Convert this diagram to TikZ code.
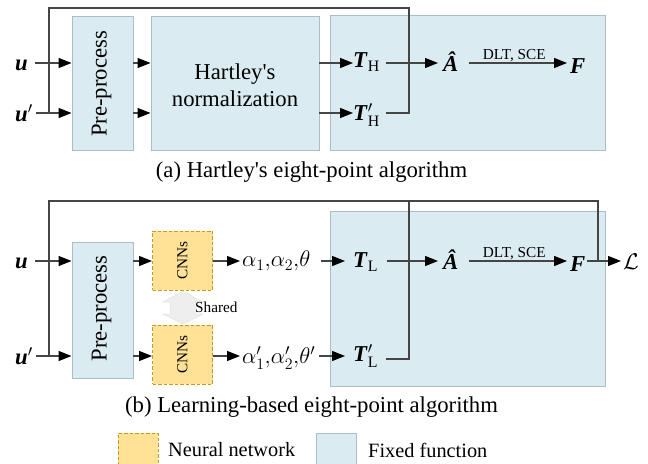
\documentclass[tikz,border=0pt]{standalone}
\usepackage{fix-cm}
\usepackage{fontspec}
\setmainfont{Liberation Serif}
\usetikzlibrary{arrows.meta}
\definecolor{blueF}{HTML}{DAEBF2}
\definecolor{blueB}{HTML}{A9BEC6}
\definecolor{yelF}{HTML}{FFE296}
\definecolor{yelB}{HTML}{C99A22}
\definecolor{lineC}{HTML}{454545}
\definecolor{shareF}{HTML}{EEEEEE}
\definecolor{shareB}{HTML}{E2E4DC}
\newcommand{\bfit}[1]{\textbf{\textit{#1}}}
\begin{document}
\begin{tikzpicture}[x=1bp,y=-1bp,
  big/.style={font=\fontsize{22.8}{27}\selectfont},
  small/.style={font=\fontsize{15.3}{18}\selectfont},
  fixedbox/.style={draw=blueB, fill=blueF, line width=0.9bp, inner sep=0pt},
  nnbox/.style={draw=yelB, fill=yelF, dashed, dash pattern=on 3.5bp off 2bp, line width=0.9bp, inner sep=0pt},
  conn/.style={draw=lineC, line width=1.2bp},
  arr/.style={conn, -{Triangle[length=13bp,width=10bp,color=black]}},
  lbl/.style={big, inner sep=0pt, anchor=west}]
\useasboundingbox (0,0) rectangle (648,464);

% ---------- (a) ----------
\node[fixedbox, minimum width=275bp, minimum height=135bp] (fix1) at (467.5,82.5) {};
\node[fixedbox, minimum width=61bp, minimum height=134bp] (pp1) at (102.5,83) {};
\node[big, rotate=90] (pp1t) at (101.5,84) {Pre-process};
\node[fixedbox, minimum width=168bp, minimum height=134bp] (hn1) at (235,83) {};
\node[big, align=center] (hn1t) at (235,85) {Hartley\textquotesingle s\\normalization};

\coordinate (r1) at (0,63);
\coordinate (r2) at (0,113);
\coordinate (top1) at (0,8);

\node[lbl] (u1) at (15,65) {\bfit{u}};
\node[lbl] (u2) at (15,113) {${\bfit{u}}'$};
\node[lbl] (TH1) at (353,62) {$\bfit{T}_{\mathrm{H}}$};
\node[lbl] (TH2) at (353,115) {$\bfit{T}'_{\mathrm{H}}$};
\node[lbl] (Ah1) at (443,62) {\bfit{Â}};
\node[lbl] (F1) at (570,66) {\bfit{F}};

\draw[arr, shorten <=7bp] (u1.east |- r1) -- (pp1.west |- r1);
\draw[arr, shorten <=3bp] (u2.east |- r2) -- (pp1.west |- r2);
\draw[arr] (pp1.east |- r1) -- (hn1.west |- r1);
\draw[arr] (pp1.east |- r2) -- (hn1.west |- r2);
\draw[arr] (hn1.east |- r1) -- (TH1.west |- r1);
\draw[arr] (hn1.east |- r2) -- (TH2.west |- r2);
\draw[arr, shorten <=6bp, shorten >=5bp] (TH1.east |- r1) -- (Ah1.west |- r1);
\draw[arr, shorten <=10bp, shorten >=3bp] (Ah1.east |- r1) -- node[small, above, inner sep=1bp] (dlt1) {DLT, SCE} (F1.west |- r1);
\coordinate (c1) at (409,113);
\draw[conn, shorten <=6bp] (TH2.east |- r2) -- (c1) -- (c1 |- top1) -- (49,8) -- (49,113);

\node[big] (capa) at (311.5,172) {(a) Hartley\textquotesingle s eight-point algorithm};

% ---------- (b) ----------
\node[fixedbox, minimum width=275bp, minimum height=175bp] (fix2) at (467.5,298.5) {};
\node[fixedbox, minimum width=61bp, minimum height=136bp] (pp2) at (102.5,310) {};
\node[big, rotate=90] (pp2t) at (101.5,308.5) {Pre-process};
\node[nnbox, minimum width=60bp, minimum height=59bp] (cnn1) at (182.5,260.5) {};
\node[small, rotate=90] at (cnn1) {CNNs};
\node[nnbox, minimum width=60bp, minimum height=59bp] (cnn2) at (182.5,354.5) {};
\node[small, rotate=90] at (cnn2) {CNNs};

% shared double arrow
\fill[shareF, draw=shareB, line width=0.5bp]
  (183,291) -- (203,302) -- (196,302) -- (196,314) -- (203,314) -- (183,324)
  -- (163,314) -- (170,314) -- (170,302) -- (163,302) -- cycle;
\node[small, anchor=west, inner sep=0pt] (shared) at (195,307) {Shared};

\coordinate (r3) at (0,261);
\coordinate (r4) at (0,356);
\coordinate (r4b) at (0,359);
\coordinate (top2) at (0,201);

\node[lbl] (u3) at (15,263) {\bfit{u}};
\node[lbl] (u4) at (15,356) {${\bfit{u}}'$};
\node[lbl] (al1) at (242,261) {$\alpha_1{,}\alpha_2{,}\theta$};
\node[lbl] (al2) at (242,358) {$\alpha'_1{,}\alpha'_2{,}\theta'$};
\node[lbl] (TL1) at (353,262) {$\bfit{T}_{\mathrm{L}}$};
\node[lbl] (TL2) at (353,356) {$\bfit{T}'_{\mathrm{L}}$};
\node[lbl] (Ah2) at (443,260) {\bfit{Â}};
\node[lbl] (F2) at (570,264) {\bfit{F}};
\node[lbl] (L2) at (623,262) {$\mathcal{L}$};

\draw[arr, shorten <=7bp] (u3.east |- r3) -- (pp2.west |- r3);
\draw[arr, shorten <=3bp] (u4.east |- r4) -- (pp2.west |- r4);
\draw[arr] (pp2.east |- r3) -- (cnn1.west |- r3);
\draw[arr] (pp2.east |- r4) -- (cnn2.west |- r4);
\draw[arr, shorten >=2bp] (cnn1.east |- r3) -- (al1.west |- r3);
\draw[arr, shorten >=2bp] (cnn2.east |- r4) -- (al2.west |- r4);
\draw[arr, shorten <=10bp, shorten >=8bp] (al1.east |- r3) -- (TL1.west |- r3);
\draw[arr, shorten <=4bp, shorten >=8bp] (al2.east |- r4) -- (TL2.west |- r4);
\draw[arr, shorten <=9bp, shorten >=5bp] (TL1.east |- r3) -- (Ah2.west |- r3);
\draw[arr, shorten <=10bp, shorten >=3bp] (Ah2.east |- r3) -- node[small, above, inner sep=1bp] (dlt2) {DLT, SCE} (F2.west |- r3);
\draw[arr, shorten <=1bp, shorten >=2bp] (F2.east |- r3) -- (L2.west |- r3);
\coordinate (c2) at (409,359);
\draw[conn, shorten <=8bp] (TL2.east |- r4b) -- (c2) -- (c2 |- top2);
\draw[conn] (49,356) -- (49,201) -- (598,201) -- (598,261);

\node[big] (capb) at (311.5,407) {(b) Learning-based eight-point algorithm};

% ---------- legend ----------
\node[nnbox, minimum width=40bp, minimum height=34bp, anchor=north west] (legnn) at (118,433) {};
\node[font=\fontsize{20.4}{24}\selectfont, anchor=west, inner sep=0pt] (legnnt) at (168,450) {Neural network};
\node[fixedbox, minimum width=40bp, minimum height=34bp, anchor=north west] (legfx) at (316,433) {};
\node[font=\fontsize{20.4}{24}\selectfont, anchor=west, inner sep=0pt] (legfxt) at (368,450) {Fixed function};
\end{tikzpicture}
\end{document}
